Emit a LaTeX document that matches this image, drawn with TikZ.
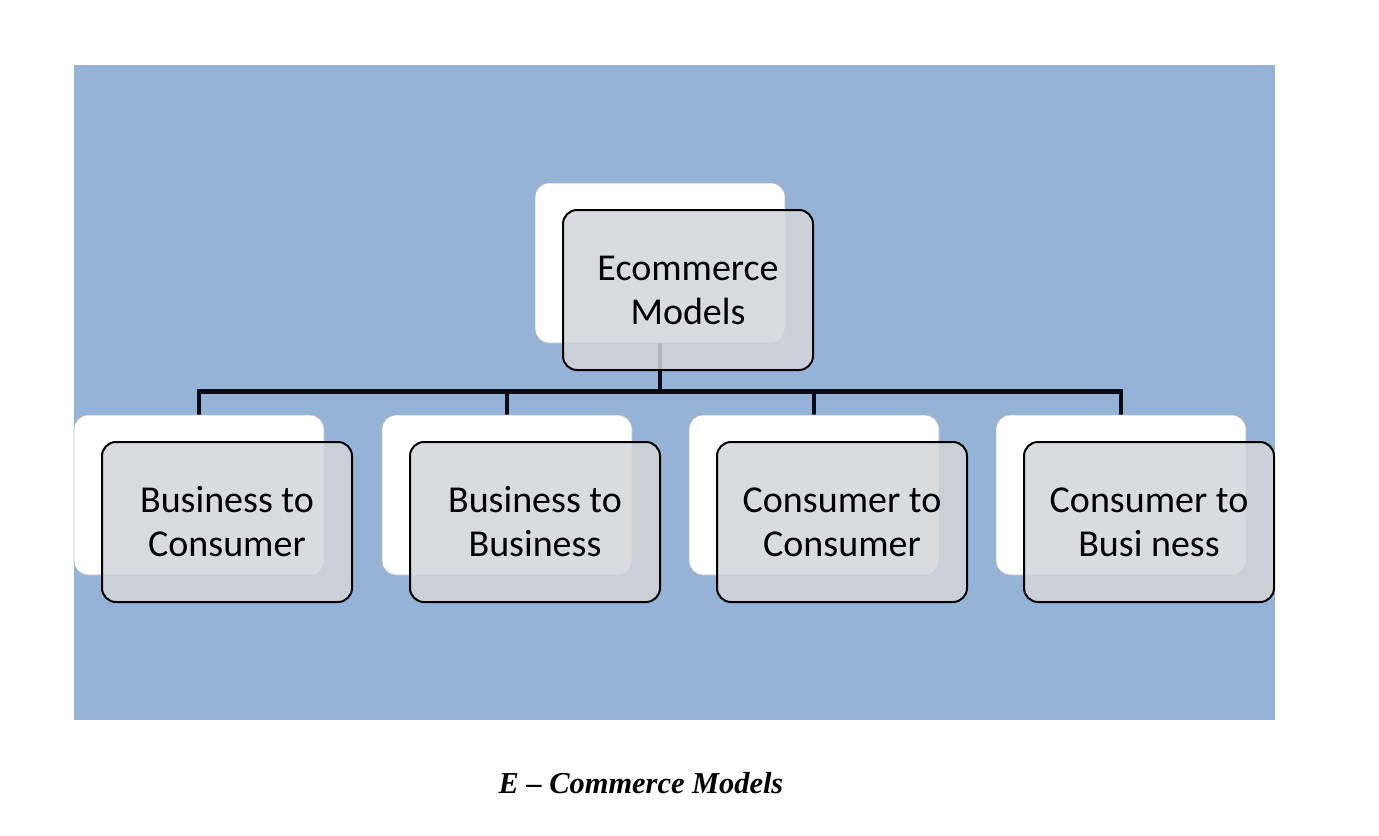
\documentclass[tikz,border=0pt]{standalone}
\usepackage{fontspec}
\setmainfont{Carlito}
\newfontfamily\capfont{Liberation Serif}
\usetikzlibrary{positioning}
\definecolor{panelblue}{RGB}{149,179,215}
\definecolor{boxgray}{RGB}{212,213,217}
\definecolor{linkcol}{RGB}{8,10,22}
\pgfdeclarelayer{bg}
\pgfsetlayers{bg,main}
\tikzset{back/.style={rectangle,draw=gray!55,fill=white,rounded corners=7pt,minimum width=125pt,minimum height=80pt},
front/.style={rectangle,draw=black,line width=1pt,fill=boxgray,fill opacity=0.85,text opacity=1,rounded corners=7pt,minimum width=125pt,minimum height=80pt,align=center,xshift=14pt,yshift=-13.5pt,font=\fontsize{19}{22}\selectfont},
line/.style={draw=linkcol,line width=2.2pt}}

\begin{document}
\begin{tikzpicture}[x=0.5pt,y=-0.5pt]
\useasboundingbox (0,0) rectangle (1379,835);
% root
\node[back] (root) at (660,263) {};
\node[front] (rootf) at (root) {Ecommerce\\Models};
% children
\node[back] (b2c) at (199,495) {};
\node[front] (b2cf) at (b2c) {Business to\\Consumer};
\node[back] (b2b) at (507,495) {};
\node[front] (b2bf) at (b2b) {Business to\\Business};
\node[back] (c2c) at (814,495) {};
\node[front] (c2cf) at (c2c) {Consumer to\\Consumer};
\node[back] (c2b) at (1121,495) {};
\node[front] (c2bf) at (c2b) {Consumer to\\Busi ness};
\begin{pgfonlayer}{bg}
\fill[panelblue] (74,65) rectangle (1275,720);
\foreach \k in {b2c,b2b,c2c,c2b}
  \draw[line] (root.south) -- ++(0,48) -| (\k.north);
\end{pgfonlayer}
\node[font=\capfont\bfseries\itshape\fontsize{15.2}{17}\selectfont] (cap) at (641,783) {E – Commerce Models};
\end{tikzpicture}
\end{document}
